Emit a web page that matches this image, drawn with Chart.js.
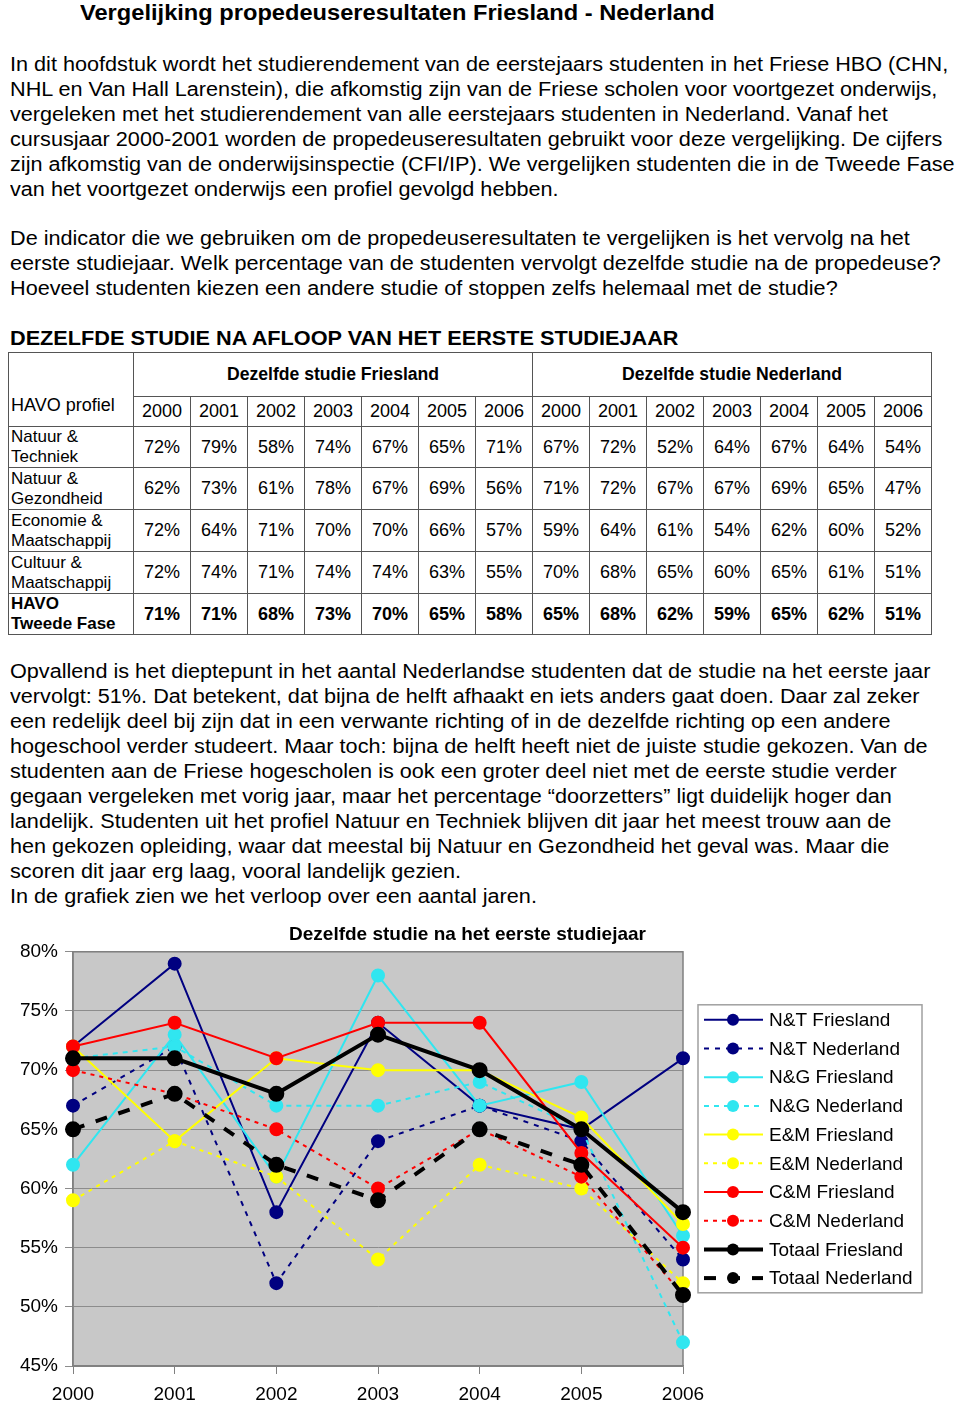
<!DOCTYPE html>
<html>
<head>
<meta charset="utf-8">
<script src="https://cdn.jsdelivr.net/npm/chart.js@4.4.0/dist/chart.umd.min.js"></script>
<style>
body { margin: 0; background: #fff; font-family: "Liberation Sans", Arial, sans-serif; color: #000; }
#page { position: relative; width: 960px; height: 1402px; overflow: hidden; }
.txt { position: absolute; left: 10px; font-size: 20px; line-height: 25px; white-space: nowrap; margin: 0; transform: scaleX(1.082); transform-origin: 0 0; }
h1 { position: absolute; left: 80px; top: 0; margin: 0; font-size: 21.5px; line-height: 26px; white-space: nowrap; transform: scaleX(1.1); transform-origin: 0 0; }
h2 { position: absolute; left: 10px; top: 326px; margin: 0; font-size: 20px; line-height: 24px; white-space: nowrap; transform: scaleX(1.084); transform-origin: 0 0; }
#tbl { position: absolute; left: 8px; top: 352px; border-collapse: collapse; table-layout: fixed; }
#tbl td { border: 1.5px solid #555; padding: 0; text-align: center; font-size: 18px; }
#tbl td.lab { text-align: left; padding-left: 2px; font-size: 17px; line-height: 20px; }
#tbl td.head { font-weight: bold; font-size: 17.6px; }
#tbl tr.tot td { font-weight: bold; }
#chartBox { position: absolute; left: 0; top: 915px; width: 935px; height: 487px; }
</style>
</head>
<body>
<div id="page">
<h1>Vergelijking propedeuseresultaten Friesland - Nederland</h1>
<p class="txt" style="top:52px">In dit hoofdstuk wordt het studierendement van de eerstejaars studenten in het Friese HBO (CHN,<br>NHL en Van Hall Larenstein), die afkomstig zijn van de Friese scholen voor voortgezet onderwijs,<br>vergeleken met het studierendement van alle eerstejaars studenten in Nederland. Vanaf het<br>cursusjaar 2000-2001 worden de propedeuseresultaten gebruikt voor deze vergelijking. De cijfers<br>zijn afkomstig van de onderwijsinspectie (CFI/IP). We vergelijken studenten die in de Tweede Fase<br>van het voortgezet onderwijs een profiel gevolgd hebben.</p>
<p class="txt" style="top:226px">De indicator die we gebruiken om de propedeuseresultaten te vergelijken is het vervolg na het<br>eerste studiejaar. Welk percentage van de studenten vervolgt dezelfde studie na de propedeuse?<br>Hoeveel studenten kiezen een andere studie of stoppen zelfs helemaal met de studie?</p>
<h2>DEZELFDE STUDIE NA AFLOOP VAN HET EERSTE STUDIEJAAR</h2>
<table id="tbl"></table>
<p class="txt" style="top:659px">Opvallend is het dieptepunt in het aantal Nederlandse studenten dat de studie na het eerste jaar<br>vervolgt: 51%. Dat betekent, dat bijna de helft afhaakt en iets anders gaat doen. Daar zal zeker<br>een redelijk deel bij zijn dat in een verwante richting of in de dezelfde richting op een andere<br>hogeschool verder studeert. Maar toch: bijna de helft heeft niet de juiste studie gekozen. Van de<br>studenten aan de Friese hogescholen is ook een groter deel niet met de eerste studie verder<br>gegaan vergeleken met vorig jaar, maar het percentage “doorzetters” ligt duidelijk hoger dan<br>landelijk. Studenten uit het profiel Natuur en Techniek blijven dit jaar het meest trouw aan de<br>hen gekozen opleiding, waar dat meestal bij Natuur en Gezondheid het geval was. Maar die<br>scoren dit jaar erg laag, vooral landelijk gezien.<br>In de grafiek zien we het verloop over een aantal jaren.</p>
<div id="chartBox"><canvas id="chart" width="935" height="487"></canvas></div>
</div>
<script>
// jaren en percentages (dezelfde studie na het eerste jaar)
const years = ['2000', '2001', '2002', '2003', '2004', '2005', '2006'];
const ntFriesland = [72, 79, 58, 74, 67, 65, 71];
const ntNederland = [67, 72, 52, 64, 67, 64, 54];
const ngFriesland = [62, 73, 61, 78, 67, 69, 56];
const ngNederland = [71, 72, 67, 67, 69, 65, 47];
const emFriesland = [72, 64, 71, 70, 70, 66, 57];
const emNederland = [59, 64, 61, 54, 62, 60, 52];
const cmFriesland = [72, 74, 71, 74, 74, 63, 55];
const cmNederland = [70, 68, 65, 60, 65, 61, 51];
const totFriesland = [71, 71, 68, 73, 70, 65, 58];
const totNederland = [65, 68, 62, 59, 65, 62, 51];

const profielen = ['Natuur &<br>Techniek', 'Natuur &<br>Gezondheid', 'Economie &<br>Maatschappij', 'Cultuur &<br>Maatschappij', 'HAVO<br>Tweede Fase'];
const rijenFriesland = [ntFriesland, ngFriesland, emFriesland, cmFriesland, totFriesland];
const rijenNederland = [ntNederland, ngNederland, emNederland, cmNederland, totNederland];
const rijHoogte = [41, 42, 42, 42, 41];

// tabel opbouwen
function buildTable() {
    const t = document.getElementById('tbl');
    let html = '<colgroup><col style="width:125px">';
    for (let i = 0; i < 14; i++) html += '<col style="width:57px">';
    html += '</colgroup>';
    html += '<tr style="height:44px"><td class="lab" rowspan="2" style="vertical-align:bottom;padding-bottom:11px;font-size:18px">HAVO profiel</td>'
        + '<td class="head" colspan="7">Dezelfde studie Friesland</td>'
        + '<td class="head" colspan="7">Dezelfde studie Nederland</td></tr>';
    html += '<tr style="height:30px">' + years.concat(years).map(y => '<td>' + y + '</td>').join('') + '</tr>';
    profielen.forEach((p, i) => {
        const cls = i === profielen.length - 1 ? ' class="tot"' : '';
        html += '<tr' + cls + ' style="height:' + rijHoogte[i] + 'px"><td class="lab">' + p + '</td>';
        rijenFriesland[i].concat(rijenNederland[i]).forEach(v => { html += '<td>' + v + '%</td>'; });
        html += '</tr>';
    });
    t.innerHTML = html;
}
buildTable();

const navy = '#000080', cyan = '#30e6f0', yellow = '#ffff00', red = '#ff0000', black = '#000000';

function serie(label, data, color, dash, width) {
    return {
        label: label,
        data: data,
        borderColor: color,
        backgroundColor: color,
        pointBackgroundColor: color,
        pointBorderColor: color,
        borderWidth: width || 2,
        borderDash: dash || [],
        pointRadius: 6,
        pointHoverRadius: 6,
        tension: 0
    };
}

const datasets = [
    serie('N&T Friesland', ntFriesland, navy),
    serie('N&T Nederland', ntNederland, navy, [5, 6]),
    serie('N&G Friesland', ngFriesland, cyan),
    serie('N&G Nederland', ngNederland, cyan, [5, 5]),
    serie('E&M Friesland', emFriesland, yellow),
    serie('E&M Nederland', emNederland, yellow, [4, 5]),
    serie('C&M Friesland', cmFriesland, red),
    serie('C&M Nederland', cmNederland, red, [4, 5]),
    serie('Totaal Friesland', totFriesland, black, [], 4),
    serie('Totaal Nederland', totNederland, black, [12, 12], 4)
];
// latere series bovenop tekenen, zoals in Excel
datasets.forEach((d, i) => { d.order = datasets.length - i; });

// grijze achtergrond van het plotgebied
const plotBg = {
    id: 'plotBg',
    beforeDraw(chart) {
        const a = chart.chartArea, ctx = chart.ctx;
        ctx.save();
        ctx.fillStyle = '#c8c8c8';
        ctx.fillRect(a.left, a.top, a.right - a.left, a.bottom - a.top);
        ctx.restore();
    },
    beforeDatasetsDraw(chart) {
        const a = chart.chartArea, ctx = chart.ctx;
        ctx.save();
        ctx.strokeStyle = '#808080';
        ctx.lineWidth = 1.5;
        ctx.strokeRect(a.left, a.top, a.right - a.left, a.bottom - a.top);
        ctx.restore();
    }
};

// legenda rechts met lijnstukje en punt
const sideLegend = {
    id: 'sideLegend',
    afterDraw(chart) {
        const ctx = chart.ctx, a = chart.chartArea;
        const x0 = a.right + 15, y0 = a.top + 53, w = 224, rowH = 28.7;
        const sets = chart.data.datasets;
        const h = 288;
        ctx.save();
        ctx.fillStyle = '#fff';
        ctx.fillRect(x0, y0, w, h);
        ctx.strokeStyle = '#a0a0a0';
        ctx.lineWidth = 1.5;
        ctx.strokeRect(x0, y0, w, h);
        sets.forEach((d, i) => {
            const y = y0 + 15 + i * rowH;
            ctx.strokeStyle = d.borderColor;
            ctx.lineWidth = d.borderWidth;
            ctx.setLineDash(d.borderDash);
            ctx.beginPath();
            ctx.moveTo(x0 + 6, y);
            ctx.lineTo(x0 + 65, y);
            ctx.stroke();
            ctx.setLineDash([]);
            ctx.fillStyle = d.borderColor;
            ctx.beginPath();
            ctx.arc(x0 + 35, y, 6, 0, Math.PI * 2);
            ctx.fill();
            ctx.fillStyle = '#000';
            ctx.font = '19px "Liberation Sans", Arial, sans-serif';
            ctx.textBaseline = 'middle';
            ctx.textAlign = 'left';
            ctx.fillText(d.label, x0 + 71, y + 1);
        });
        ctx.restore();
    }
};

Chart.defaults.font.family = '"Liberation Sans", Arial, sans-serif';
Chart.defaults.color = '#000';

new Chart(document.getElementById('chart').getContext('2d'), {
    type: 'line',
    data: { labels: years, datasets: datasets },
    options: {
        responsive: false,
        animation: false,
        devicePixelRatio: 1,
        plugins: {
            legend: { display: false },
            tooltip: { enabled: false },
            title: {
                display: true,
                text: 'Dezelfde studie na het eerste studiejaar',
                font: { size: 19, weight: 'bold' },
                color: '#000',
                padding: { top: 8, bottom: 6 }
            }
        },
        scales: {
            x: {
                offset: false,
                grid: { drawOnChartArea: false, drawTicks: true, tickLength: 8, color: '#808080' },
                border: { color: '#808080', width: 1.5 },
                ticks: { font: { size: 19 }, padding: 9, maxRotation: 0, autoSkip: false },
                afterFit(s) { s.height = 36; }
            },
            y: {
                min: 45,
                max: 80,
                grid: { color: '#8c8c8c', lineWidth: 1, tickLength: 8 },
                border: { color: '#808080', width: 1.5 },
                ticks: { stepSize: 5, font: { size: 19 }, padding: 7, callback: v => v + '%' },
                afterFit(s) { s.width = 73; }
            },
            // lege as rechts als ruimte voor de legenda
            ruimte: {
                type: 'linear',
                position: 'right',
                grid: { display: false },
                border: { display: false },
                ticks: { display: false },
                afterFit(s) { s.width = 252; }
            }
        }
    },
    plugins: [plotBg, sideLegend]
});
</script>
</body>
</html>
